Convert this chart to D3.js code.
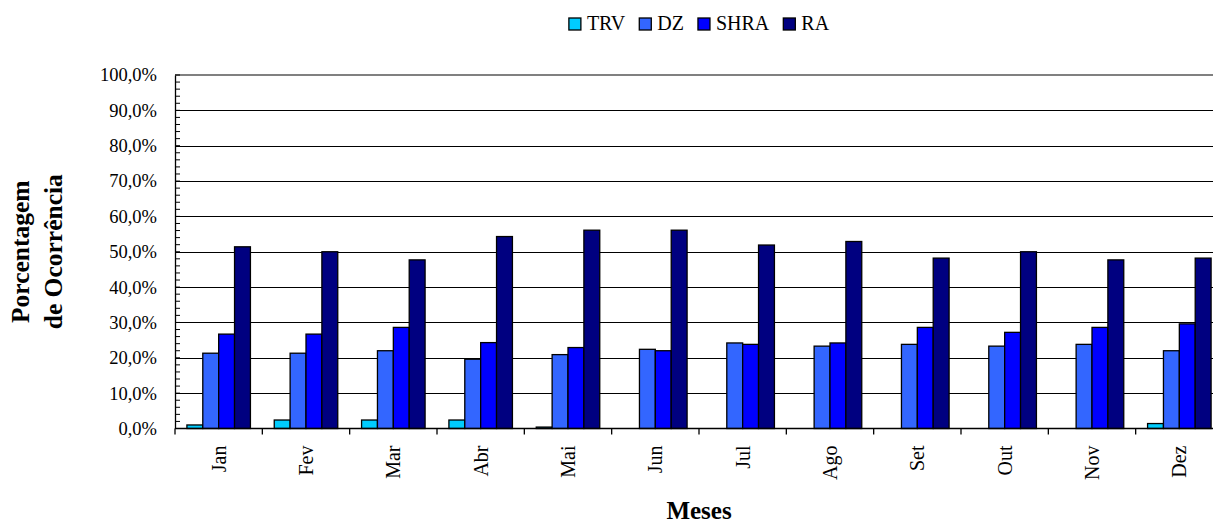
<!DOCTYPE html>
<html>
<head>
<meta charset="utf-8">
<script src="https://cdnjs.cloudflare.com/ajax/libs/d3/7.8.5/d3.min.js"></script>
<style>
  body { margin: 0; background: #fff; }
  svg { display: block; }
  svg text { font-family: "Liberation Serif", "Times New Roman", serif; fill: #000; }
</style>
</head>
<body>
<div id="chart"></div>
<script>
// Chart data
const months = ["Jan", "Fev", "Mar", "Abr", "Mai", "Jun", "Jul", "Ago", "Set", "Out", "Nov", "Dez"];
const seriesNames = ["TRV", "DZ", "SHRA", "RA"];
const trv  = [1.0, 2.4, 2.4, 2.4, 0.4, 0, 0, 0, 0, 0, 0, 1.4];
const dz   = [21.3, 21.3, 22.0, 19.6, 20.9, 22.4, 24.2, 23.3, 23.8, 23.3, 23.8, 22.0];
const shra = [26.7, 26.7, 28.6, 24.3, 22.9, 22.0, 23.8, 24.2, 28.6, 27.2, 28.6, 29.6];
const ra   = [51.4, 50.0, 47.7, 54.3, 56.1, 56.1, 51.9, 52.9, 48.2, 50.0, 47.7, 48.2];
const yTicks = [0, 10, 20, 30, 40, 50, 60, 70, 80, 90, 100];

function drawChart() {
    const W = 1213, H = 524;
    // plot area (right edge runs past the window, as in the original)
    const plot = {left: 175, right: 1223, top: 75, bottom: 428.5};

    const colors = {TRV: "#00CCFF", DZ: "#3366FF", SHRA: "#0000FF", RA: "#000080"};
    const valuesBySeries = {TRV: trv, DZ: dz, SHRA: shra, RA: ra};

    const data = months.map((m, i) => {
        const row = {month: m};
        seriesNames.forEach(s => row[s] = valuesBySeries[s][i]);
        return row;
    });

    const svg = d3.select("#chart")
        .append("svg")
        .attr("width", W)
        .attr("height", H);

    // Scales
    const x = d3.scaleBand()
        .domain(months)
        .range([plot.left, plot.right])
        .padding(0);

    const gapWidth = 1.5; // Excel-style gap, as a fraction of one bar
    const barW = x.bandwidth() / (seriesNames.length + gapWidth);
    const x1 = d3.scaleBand()
        .domain(seriesNames)
        .range([barW * gapWidth / 2, barW * gapWidth / 2 + barW * seriesNames.length]);

    const y = d3.scaleLinear()
        .domain([0, 100])
        .range([plot.bottom, plot.top]);

    // Gridlines
    svg.append("g")
        .selectAll("line")
        .data(yTicks.filter(d => d > 0 && d < 100))
        .enter()
        .append("line")
        .attr("x1", plot.left)
        .attr("x2", W)
        .attr("y1", d => Math.round(y(d)) + 0.5)
        .attr("y2", d => Math.round(y(d)) + 0.5)
        .attr("stroke", "#000")
        .attr("stroke-width", 1);

    // top border of the plot area
    svg.append("line")
        .attr("x1", plot.left)
        .attr("x2", W)
        .attr("y1", y(100))
        .attr("y2", y(100))
        .attr("stroke", "#808080")
        .attr("stroke-width", 2);

    // Bars
    const groups = svg.append("g")
        .selectAll("g")
        .data(data)
        .enter()
        .append("g")
        .attr("transform", d => `translate(${x(d.month)},0)`);

    groups.selectAll("rect")
        .data(d => seriesNames.map(s => ({key: s, value: d[s]})))
        .enter()
        .filter(d => d.value > 0)
        .append("rect")
        .attr("x", d => x1(d.key))
        .attr("y", d => y(d.value))
        .attr("width", x1.bandwidth())
        .attr("height", d => y(0) - y(d.value))
        .attr("fill", d => colors[d.key])
        .attr("stroke", "#000")
        .attr("stroke-width", 1.3);

    // Y axis
    const yAxis = svg.append("g")
        .attr("transform", `translate(${plot.left},0)`)
        .call(d3.axisLeft(y)
            .tickValues(yTicks)
            .tickSize(0)
            .tickPadding(18)
            .tickFormat(d => d3.format(".1f")(d).replace(".", ",") + "%"));
    yAxis.select(".domain").attr("stroke", "#000").attr("stroke-width", 1.3);
    yAxis.selectAll("text")
        .style("font-size", "18.5px");

    // Minor ticks every 2%, inside the plot
    svg.append("g")
        .selectAll("line")
        .data(d3.range(0, 101, 2))
        .enter()
        .append("line")
        .attr("x1", plot.left)
        .attr("x2", plot.left + 5)
        .attr("y1", d => y(d))
        .attr("y2", d => y(d))
        .attr("stroke", "#000")
        .attr("stroke-width", 1);

    // X axis line
    svg.append("line")
        .attr("x1", plot.left)
        .attr("x2", W)
        .attr("y1", y(0))
        .attr("y2", y(0))
        .attr("stroke", "#000")
        .attr("stroke-width", 1.3);

    // X ticks between categories
    svg.append("g")
        .selectAll("line")
        .data(months)
        .enter()
        .append("line")
        .attr("x1", d => x(d))
        .attr("x2", d => x(d))
        .attr("y1", y(0))
        .attr("y2", y(0) + 6)
        .attr("stroke", "#000")
        .attr("stroke-width", 1.3);

    // Month labels (rotated)
    svg.append("g")
        .selectAll("text")
        .data(months)
        .enter()
        .append("text")
        .attr("transform", d => `translate(${x(d) + x.bandwidth() / 2},${y(0) + 17}) rotate(-90)`)
        .attr("text-anchor", "end")
        .attr("dy", "0.35em")
        .style("font-size", "20px")
        .text(d => d);

    // Y axis title
    const yTitle = svg.append("text")
        .attr("transform", `translate(0,${(plot.top + plot.bottom) / 2}) rotate(-90)`)
        .attr("text-anchor", "middle")
        .style("font-size", "25.5px")
        .style("font-weight", "bold");
    yTitle.append("tspan").attr("x", 0).attr("y", 29).text("Porcentagem");
    yTitle.append("tspan").attr("x", 0).attr("y", 62).text("de Ocorrência");

    // X axis title
    svg.append("text")
        .attr("x", (plot.left + plot.right) / 2)
        .attr("y", 519)
        .attr("text-anchor", "middle")
        .style("font-size", "25px")
        .style("font-weight", "bold")
        .text("Meses");

    // Legend
    const legend = svg.append("g");
    let cursor = 0;
    seriesNames.forEach(s => {
        const item = legend.append("g").attr("transform", `translate(${cursor},0)`);
        item.append("rect")
            .attr("x", 0)
            .attr("y", 18)
            .attr("width", 12)
            .attr("height", 12)
            .attr("fill", colors[s])
            .attr("stroke", "#000")
            .attr("stroke-width", 1.3);
        const t = item.append("text")
            .attr("x", 18)
            .attr("y", 30)
            .style("font-size", "20px")
            .text(s);
        cursor += 18 + t.node().getComputedTextLength() + 14;
    });
    const legendW = cursor - 14;
    legend.attr("transform", `translate(${(plot.left + plot.right) / 2 - legendW / 2},0)`);
}

document.addEventListener("DOMContentLoaded", drawChart);
</script>
</body>
</html>
